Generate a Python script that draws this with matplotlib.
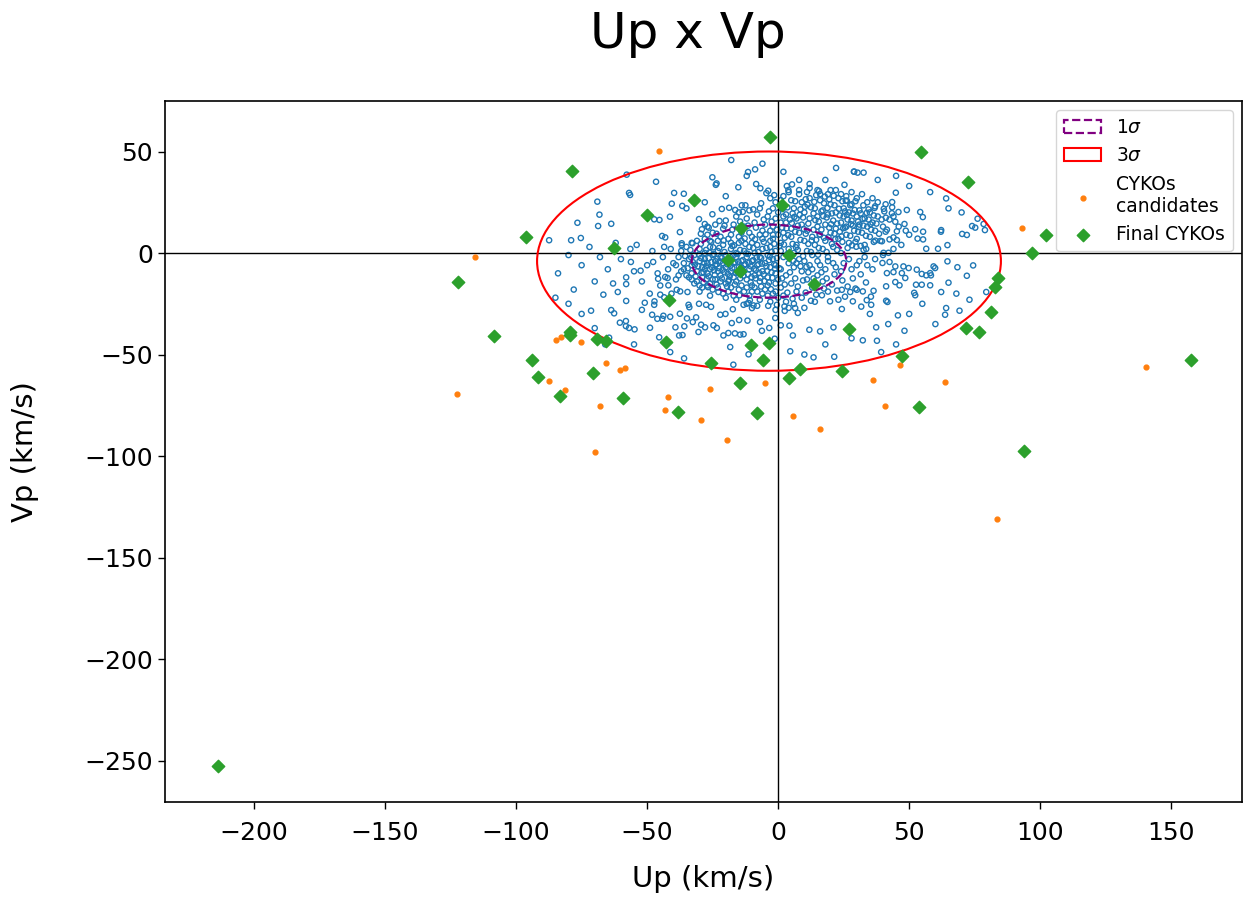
import matplotlib
matplotlib.use("Agg")
import matplotlib.pyplot as plt
from matplotlib.patches import Ellipse

# ---------------- data ----------------
# Final CYKOs (green diamonds)
final_pts = [(-3.0, 57.0), (-78.5, 40.4), (-32.1, 26.1), (-49.9, 18.7), (1.5, 23.8),
             (-96.2, 7.7), (-62.8, 2.5), (-14.2, 12.3), (-19.2, -3.4), (-14.5, -9.0),
             (4.1, -1.1), (13.6, -15.4), (-122.3, -14.4), (-41.7, -23.3), (54.5, 49.9),
             (72.3, 35.1), (102.3, 8.9), (96.7, 0.1), (84.0, -12.5), (82.9, -16.6),
             (81.3, -29.2), (-108.4, -40.9), (-79.4, -38.8), (-79.6, -40.4), (-69.2, -42.5),
             (-65.6, -43.5), (-42.7, -43.8), (-25.6, -54.3), (-10.4, -45.3), (-3.4, -44.2),
             (-5.6, -52.7), (8.4, -57.1), (4.2, -61.6), (-14.5, -64.2), (-7.9, -78.7),
             (-94.0, -52.5), (-91.6, -61.2), (-70.7, -59.3), (-83.2, -70.4), (-59.3, -71.6),
             (-38.4, -78.3), (71.6, -36.8), (76.5, -38.8), (26.9, -37.6), (24.3, -58.0),
             (47.2, -50.7), (53.6, -76.0), (94.0, -97.7), (157.5, -52.7), (-213.7, -252.7)]

# CYKOs candidates (orange dots)
cand_pts = [(-45.3, 50.4), (-115.6, -1.8), (93.0, 12.2), (-84.9, -42.7), (-82.8, -41.4),
            (-75.4, -44.0), (-65.6, -54.0), (-60.3, -57.6), (-58.3, -56.7), (-87.4, -63.2),
            (-81.4, -67.6), (-122.6, -69.5), (-68.1, -75.4), (-41.9, -70.8), (-43.0, -77.5),
            (-29.5, -82.1), (-26.2, -66.8), (-19.7, -92.1), (-70.0, -97.9), (-5.1, -64.2),
            (5.8, -80.1), (16.0, -86.5), (36.2, -62.6), (46.4, -55.2), (63.7, -63.5),
            (40.8, -75.4), (140.4, -56.3), (83.5, -130.9)]

# Field stars (blue open circles) - sparse halo
field_halo = [(-57.8, 38.6), (-46.6, 35.1), (-56.9, 29.6), (-56.5, 28.6), (-39.7, 29.6),
              (-36.0, 29.2), (-69.0, 25.3), (-40.6, 24.3), (-36.6, 23.2), (-68.2, 18.9),
              (-47.3, 16.6), (-45.3, 16.3), (-41.3, 17.9), (-76.6, 14.9), (-63.7, 14.4),
              (-68.7, 13.3), (-37.5, 10.3), (-44.3, 8.4), (-43.1, 7.7), (-87.4, 6.3),
              (-79.0, 6.3), (-75.3, 7.4), (-36.8, 4.8), (-36.8, 3.9), (-43.5, 3.0),
              (-56.4, 2.0), (-32.7, 4.8), (-17.9, 45.8), (-25.1, 37.3), (-23.5, 34.3),
              (-23.8, 33.6), (-11.5, 39.9), (-8.8, 41.2), (-15.2, 32.4), (-8.4, 34.0),
              (-6.8, 31.9), (-3.8, 30.7), (3.3, 33.0), (3.9, 31.0), (5.3, 33.8),
              (15.6, 30.5), (22.1, 41.9), (28.9, 40.1), (25.3, 33.6), (26.2, 25.8),
              (-30.2, 16.7), (-28.0, 14.3), (-25.1, 19.1), (-21.5, 21.7), (-18.7, 22.3),
              (-16.4, 21.2), (-13.9, 23.5), (-13.5, 20.3), (-29.1, 11.7), (-22.4, 15.8),
              (29.0, 40.1), (30.3, 39.6), (32.6, 39.6), (44.9, 29.7), (64.1, 26.9),
              (43.5, 25.1), (40.3, 21.8), (49.1, 21.2), (54.2, 20.2), (55.2, 17.7),
              (45.9, 20.2), (43.4, 19.6), (41.1, 17.4), (76.1, 16.9), (78.4, 14.3),
              (74.0, 13.3), (75.2, 12.5), (78.9, 11.3), (70.2, 9.4), (72.0, 8.9),
              (62.2, 11.3), (62.1, 10.5), (52.3, 11.7), (55.3, 10.5), (48.2, 14.3),
              (44.7, 15.4), (48.7, 11.0), (45.3, 10.7), (53.2, 7.1), (55.3, 6.7),
              (56.5, 2.1), (61.0, 2.1), (64.6, 3.9), (44.0, 7.7), (42.5, 6.7),
              (45.3, 6.4), (41.0, 10.5), (37.1, 6.1), (39.6, 5.8), (32.6, 1.5),
              (33.6, 2.0), (29.8, 3.1), (40.2, 0.1), (42.1, 0.1),
              (-56.2, -4.4), (-52.5, -8.7), (-45.8, -12.7), (-43.1, -11.8), (-42.2, -12.3),
              (-47.7, -4.4), (-58.0, -15.3), (-61.2, -19.2), (-66.7, -20.5), (-58.0, -23.6),
              (-50.9, -24.5), (-47.2, -23.8), (-47.3, -25.5), (-45.0, -20.5), (-43.5, -21.8),
              (-71.4, -28.4), (-63.7, -28.1), (-62.6, -29.7), (-48.1, -30.4), (-46.1, -32.4),
              (-44.2, -32.4), (-43.8, -30.9), (-41.2, -31.4), (-37.5, -29.9), (-34.8, -32.2),
              (-60.4, -34.3), (-58.1, -33.5), (-58.1, -36.0), (-56.9, -36.9), (-54.8, -37.6),
              (-48.9, -36.8), (-39.2, -36.6), (-35.8, -36.1), (-37.8, -40.6), (-36.5, -40.4),
              (-45.4, -41.5), (-41.2, -48.8), (-35.9, -51.9), (-64.5, -41.7), (-34.2, -25.5),
              (-33.9, -26.7), (-37.4, -18.9), (-34.6, -19.2), (-41.9, -15.9), (-38.7, -18.1),
              (-40.7, -20.0),
              (-30.2, -25.0), (-27.5, -25.5), (-25.6, -26.5), (-22.1, -30.4), (-20.1, -30.0),
              (-17.3, -27.7), (-13.2, -25.5), (-11.3, -24.6), (-10.0, -27.1), (-9.4, -25.8),
              (-3.8, -26.0), (-31.3, -31.7), (-32.6, -34.0), (-29.4, -35.3), (-27.9, -36.6),
              (-24.7, -35.6), (-23.4, -36.9), (-30.4, -38.9), (-20.9, -40.6), (-19.0, -39.4),
              (-16.5, -39.6), (-14.5, -40.2), (-13.2, -40.0), (-17.7, -34.5), (-14.9, -33.0),
              (-11.7, -33.3), (-6.9, -34.0), (-6.2, -38.3), (-3.4, -36.9), (-1.1, -32.0),
              (-1.3, -42.2), (-18.3, -46.3), (-17.1, -55.0), (-11.3, -49.9), (2.4, -26.3),
              (6.5, -27.1), (1.0, -35.6), (4.3, -35.8), (5.6, -40.6), (11.9, -37.8),
              (16.0, -38.6), (21.1, -36.6), (13.5, -51.4), (21.4, -51.1), (4.6, -48.4),
              (24.3, -27.6), (16.7, -20.8), (19.8, -23.8), (23.0, -23.0), (28.5, -23.8),
              (24.3, -18.1), (27.5, -19.2),
              (74.4, -6.1), (68.4, -7.0), (72.0, -11.2), (65.0, -14.6), (64.6, -4.1),
              (79.4, -19.2), (73.0, -23.0), (69.2, -28.4), (64.1, -27.1), (63.7, -30.4),
              (62.2, -19.2), (59.3, -6.6), (59.9, -7.4), (58.0, -9.9), (58.3, -11.0),
              (56.5, -11.0), (54.8, -10.3), (52.9, -8.2), (58.0, -15.9), (54.8, -15.6),
              (52.6, -15.6), (51.9, -19.6), (52.3, -20.8), (48.2, -38.3), (45.7, -30.7),
              (37.4, -36.6), (37.7, -43.2), (32.3, -43.0), (39.3, -48.8), (31.7, -26.4),
              (35.5, -25.5), (35.4, -21.5), (33.8, -23.2), (41.2, -23.5), (41.7, -24.1),
              (36.4, -18.6), (41.2, -16.4), (44.7, -14.3), (46.3, -15.9), (48.5, -12.3),
              (47.2, -9.9), (44.0, -9.4), (41.5, -9.9), (39.8, -4.9), (42.5, -4.4),
              (44.7, -6.6), (47.8, -6.6), (49.8, -7.4), (32.3, -18.9), (30.0, -18.1),
              (55.0, -25.0), (50.0, -30.0), (60.0, -35.0), (45.0, -45.0), (28.0, -42.0),
              (18.0, -45.0), (10.0, -50.0), (35.0, -30.0), (42.0, -35.0), (68.0, -20.0),
              (-75.0, -30.0), (-70.0, -37.0), (-80.0, -25.0), (-66.0, -45.0), (-55.0, -45.0),
              (-52.0, -28.0), (-85.0, -22.0), (58.0, 30.0), (65.0, 22.0), (70.0, 20.0),
              (50.0, 33.0), (38.0, 36.0), (45.0, 38.0), (-12.0, 38.0), (-6.0, 44.0),
              (2.0, 40.0), (8.0, 36.0), (12.0, 34.0), (-20.0, 28.0), (-28.0, 25.0),
              (-35.0, 22.0), (18.0, 36.0)]

# Field stars - dense core, left lobe
field_core_left = [(-34, -3), (-33, -6), (-32, -1), (-31, -9), (-30, -4), (-30, 2), (-29, -7),
                   (-29, -12), (-28, 0), (-28, -3), (-27, -10), (-27, -5), (-26, 3), (-26, -8),
                   (-25, -1), (-25, -13), (-24, -4), (-24, -6), (-23, 1), (-23, -9), (-22, -2),
                   (-22, -11), (-21, -5), (-21, 4), (-20, -7), (-20, -1), (-19, -14), (-19, -3),
                   (-18, 2), (-18, -9), (-17, -5), (-17, -12), (-16, 0), (-16, -2), (-15, -7),
                   (-15, 5), (-14, -4), (-14, -10), (-13, 1), (-13, -6), (-12, -13), (-12, -2),
                   (-11, 3), (-11, -8), (-10, -4), (-10, -16), (-9, 0), (-9, -11), (-8, -6),
                   (-8, 4), (-7, -2), (-7, -14), (-6, -9), (-6, 2), (-5, -5), (-5, -18), (-4, -1),
                   (-4, -12), (-3, 6), (-3, -7), (-2, -3), (-2, -20), (-1, 1), (-1, -15),
                   (-33, -10), (-36, -5), (-38, -2), (-37, -9), (-31, -14), (-27, -16), (-23, -17),
                   (-19, -19), (-15, -18), (-11, -21), (-7, -23), (-3, -24), (-26, 6), (-22, 8),
                   (-18, 9), (-14, 10), (-10, 8), (-6, 11), (-2, 9), (-20, -15), (-16, -14),
                   (-24, -13), (-28, -8), (-12, -17), (-8, -19), (-4, -16),
                   (-28, 7), (-25, 10), (-21, 12), (-17, 14), (-13, 13), (-9, 15), (-5, 14),
                   (-2, 13), (-1, 17), (-4, 18), (-8, 19), (-12, 17), (-16, 18), (-20, 16),
                   (-24, 14), (-27, 13), (-6, 7), (-10, 5), (-14, 6), (-18, 5), (-3, 3),
                   (-7, 22), (-11, 21), (-2, 22), (-15, 20),
                   (-40, -5), (-42, -8), (-44, -2), (-46, -10), (-48, 1), (-50, -6), (-52, -14),
                   (-54, 4), (-39, -13), (-41, 2), (-45, -16), (-49, -20), (-55, -9), (-60, -3),
                   (-58, -12), (-62, 5), (-65, -8), (-68, -2), (-70, -14), (-72, 3), (-75, -6),
                   (-78, -18), (-80, -1), (-84, -10), (-63, -15)]

field_fill_left = [(-35.5, -1.5), (-34.5, -7.5), (-33.5, 1.5), (-32.5, -4.5), (-31.5, -11.5),
                   (-30.5, -6.5), (-29.5, -2.5), (-29.5, 4.5), (-28.5, -9.5), (-28.5, -14.5),
                   (-27.5, 1.5), (-27.5, -6.5), (-26.5, -2.5), (-26.5, -11.5), (-25.5, -4.5),
                   (-25.5, 5.5), (-24.5, -8.5), (-24.5, -0.5), (-23.5, -15.5), (-23.5, -5.5),
                   (-22.5, 2.5), (-22.5, -7.5), (-21.5, -12.5), (-21.5, -2.5), (-20.5, 0.5),
                   (-20.5, -9.5), (-19.5, -5.5), (-19.5, -16.5), (-18.5, -1.5), (-18.5, -11.5),
                   (-17.5, 3.5), (-17.5, -7.5), (-16.5, -4.5), (-16.5, -15.5), (-15.5, -0.5),
                   (-15.5, -9.5), (-14.5, 1.5), (-14.5, -12.5), (-13.5, -3.5), (-13.5, -8.5),
                   (-12.5, 4.5), (-12.5, -5.5), (-11.5, -0.5), (-11.5, -10.5), (-10.5, -14.5),
                   (-10.5, -6.5), (-9.5, 2.5), (-9.5, -3.5), (-8.5, -8.5), (-8.5, -12.5),
                   (-7.5, 0.5), (-7.5, -5.5), (-6.5, -16.5), (-6.5, -2.5), (-5.5, 5.5),
                   (-5.5, -10.5), (-4.5, -6.5), (-4.5, 2.5), (-3.5, -14.5), (-3.5, -3.5),
                   (-2.5, 0.5), (-2.5, -9.5), (-1.5, -5.5), (-1.5, 4.5), (-37, 1), (-39, -6),
                   (-35, -11), (-32, -15), (-29, -17), (-25, -18), (-21, -20), (-17, -21),
                   (-13, -19), (-9, -17), (-6, -20), (-31, 6), (-27, 9), (-23, 6), (-19, 7),
                   (-15, 8), (-11, 10), (-7, 9), (-3, 11), (-33, -13), (-30, -16), (-26, -15),
                   (-22, -14), (-18, -17), (-14, -16), (-10, -19), (-36, -8), (-34, -12),
                   (-38, -11), (-35, 3), (-33, 5), (-30, -19), (-26, -21), (-20, -22), (-16, -23),
                   (-12, -25), (-8, -26), (-4, -21), (-1, -19), (-1, -6), (-2, 7),
                   (-29.5, 9.5), (-26.5, 12.5), (-23.5, 9.5), (-20.5, 13.5), (-17.5, 11.5),
                   (-14.5, 15.5), (-11.5, 13.5), (-8.5, 12.5), (-5.5, 16.5), (-2.5, 15.5),
                   (-0.5, 11.5), (-3.5, 20.5), (-6.5, 24.5), (-9.5, 21.5), (-12.5, 23.5),
                   (-1.5, 28.5), (-4.5, 29.5),
                   (-33.2, -2.2), (-31.8, -5.8), (-30.2, -0.8), (-29.2, -9.8), (-28.2, -4.8),
                   (-27.2, -12.8), (-26.2, 0.2), (-25.2, -7.2), (-24.2, -10.8), (-23.2, -2.8),
                   (-22.2, -4.2), (-21.2, -8.2), (-20.2, -3.8), (-19.2, -10.2), (-18.2, -6.2),
                   (-17.2, -1.2), (-16.2, -9.8), (-15.2, -4.2), (-14.2, -7.2), (-13.2, -11.2),
                   (-12.2, -0.2), (-11.2, -4.8), (-10.2, -11.8), (-9.2, -7.8), (-8.2, -2.2),
                   (-7.2, -9.8), (-6.2, -5.2), (-5.2, -13.8), (-4.2, -8.8), (-3.2, -1.8),
                   (-2.2, -12.2), (-1.2, -7.8), (-24.8, 2.8), (-20.8, 6.2), (-16.8, 3.8),
                   (-12.8, 7.2), (-8.8, 6.8), (-4.8, 9.2), (-26.8, -16.8), (-22.8, -19.2),
                   (-18.8, -13.2), (-14.8, -20.8), (-10.8, -23.2), (-6.8, -12.2), (-2.8, -17.8)]

# Field stars - dense core, right lobe
field_core_right = [(1, 5), (2, 10), (2, -2), (3, 15), (3, 19), (4, 2), (4, -5), (5, 8), (5, 12),
                    (6, 22), (6, 0), (7, 17), (7, 4), (8, -3), (8, 10), (9, 14), (9, 25), (10, 6),
                    (10, 20), (11, 1), (11, 11), (12, 17), (12, 27), (13, 8), (13, -1), (14, 22),
                    (14, 4), (15, 13), (15, 18), (16, 9), (16, 26), (17, 2), (17, 21), (18, 14),
                    (18, 6), (19, 19), (19, -2), (20, 10), (20, 24), (21, 16), (21, 3), (22, 12),
                    (22, 20), (23, 7), (23, 27), (24, 15), (24, 0), (25, 18), (25, 22), (26, 9),
                    (26, 13), (27, 5), (27, 20), (28, 16), (28, 24), (29, 11), (30, 18), (30, 7),
                    (31, 14), (31, 21), (32, 10), (33, 17), (33, 4), (34, 13), (35, 20), (35, 8),
                    (36, 15), (37, 11), (38, 18), (39, 6), (40, 13), (2, 28), (5, 26), (8, 29),
                    (11, 30), (15, 31), (19, 29), (22, 31), (26, 28), (30, 27), (34, 25), (37, 23),
                    (-1, 25), (-3, 27), (0, 20), (1, -8), (3, -11), (6, -7), (9, -9), (12, -6),
                    (15, -4), (18, -8), (21, -5), (24, -9), (27, -3), (30, -6), (33, -2), (36, -8),
                    (-1, -10), (0, -13), (1, -17), (2, -21), (3, -24), (5, -15), (7, -19), (9, -22),
                    (11, -13), (13, -17), (15, -11), (17, -14), (19, -19), (4, -27), (-1, -28),
                    (0, -22), (6, -25), (10, -27), (14, -24)]

field_fill_right = [(0.5, 3.5), (1.5, 12.5), (2.5, 7.5), (3.5, -0.5), (3.5, 22.5), (4.5, 16.5),
                    (5.5, 4.5), (5.5, 19.5), (6.5, 10.5), (6.5, 25.5), (7.5, 1.5), (7.5, 13.5),
                    (8.5, 6.5), (8.5, 21.5), (9.5, -1.5), (9.5, 17.5), (10.5, 9.5), (10.5, 26.5),
                    (11.5, 4.5), (11.5, 14.5), (12.5, 22.5), (12.5, 0.5), (13.5, 11.5),
                    (13.5, 19.5), (14.5, 6.5), (14.5, 28.5), (15.5, 15.5), (15.5, 2.5),
                    (16.5, 20.5), (16.5, 11.5), (17.5, 7.5), (17.5, 24.5), (18.5, 17.5),
                    (18.5, 0.5), (19.5, 12.5), (19.5, 26.5), (20.5, 4.5), (20.5, 19.5),
                    (21.5, 9.5), (21.5, 23.5), (22.5, 14.5), (22.5, 1.5), (23.5, 18.5),
                    (23.5, 10.5), (24.5, 25.5), (24.5, 5.5), (25.5, 12.5), (25.5, 20.5),
                    (26.5, 16.5), (26.5, 2.5), (27.5, 23.5), (27.5, 8.5), (28.5, 13.5),
                    (28.5, 19.5), (29.5, 5.5), (29.5, 25.5), (30.5, 10.5), (30.5, 15.5),
                    (31.5, 19.5), (31.5, 3.5), (32.5, 13.5), (32.5, 23.5), (33.5, 8.5),
                    (34.5, 16.5), (34.5, 21.5), (35.5, 11.5), (36.5, 18.5), (36.5, 5.5),
                    (37.5, 14.5), (38.5, 9.5), (39.5, 16.5), (40.5, 20.5), (41.5, 11.5),
                    (42.5, 16.5), (43.5, 22.5), (38, 25), (41, 24), (36, 27), (32, 29), (28, 30),
                    (24, 29), (20, 31), (16, 29), (12, 32), (8, 31), (4, 30), (1, 26), (1, 15),
                    (2, 18), (0, 9), (1, 1), (4, -2), (7, -5), (10, -4), (13, -8), (16, -6),
                    (19, -4), (22, -7), (25, -5), (28, -8), (31, -4), (34, -6), (37, -3), (40, -1),
                    (44, 2), (47, 4), (50, 9), (46, 13), (44, 18),
                    (-0.5, -2.5), (0.5, -7.5), (1.5, -12.5), (2.5, -15.5), (3.5, -19.5),
                    (4.5, -9.5), (5.5, -22.5), (6.5, -12.5), (7.5, -16.5), (8.5, -6.5),
                    (9.5, -13.5), (10.5, -19.5), (11.5, -9.5), (12.5, -23.5), (13.5, -12.5),
                    (14.5, -20.5), (16.5, -9.5), (17.5, -17.5), (18.5, -12.5), (20.5, -15.5),
                    (21.5, -10.5), (22.5, -18.5), (24.5, -13.5), (26.5, -16.5), (25.5, -21.5),
                    (28.5, -12.5), (29.5, -17.5), (31.5, -10.5), (33.5, -14.5), (2.5, -28.5),
                    (7.5, -29.5), (-0.5, -25.5),
                    (2.2, 4.2), (3.8, 8.8), (5.2, 14.8), (6.8, 2.8), (8.2, 18.8), (9.8, 11.8),
                    (11.2, 23.8), (12.8, 6.2), (14.2, 16.2), (15.8, 9.2), (17.2, 18.2),
                    (18.8, 22.2), (20.2, 14.2), (21.8, 6.8), (23.2, 21.8), (24.8, 12.2),
                    (26.2, 18.8), (27.8, 14.2), (29.2, 21.2), (30.8, 12.8), (32.2, 16.8),
                    (33.8, 19.8), (35.2, 14.2), (36.8, 22.2), (25.8, 25.8), (21.2, 28.2),
                    (17.8, 27.8), (13.8, 25.2), (10.2, 22.8), (6.2, 17.8), (3.2, 12.2),
                    (1.8, 21.8), (24.2, 8.2), (28.2, 3.8), (19.2, 7.8), (15.2, -0.8),
                    (10.8, -6.8), (5.8, -3.8)]

# Velocity ellipse parameters (center, 1-sigma semi-axes)
ell_center = (-3.5, -4.0)
sigma_up, sigma_vp = 29.5, 18.0

x_ticks = [-200, -150, -100, -50, 0, 50, 100, 150]
y_ticks = [-250, -200, -150, -100, -50, 0, 50]

# ---------------- figure ----------------
fig = plt.figure(figsize=(12.43, 8.99), dpi=100)
ax = fig.add_axes([0.1327, 0.1079, 0.8665, 0.7798])

field_all = field_halo + field_core_left + field_fill_left + field_core_right + field_fill_right
fx = [p[0] for p in field_all]
fy = [p[1] for p in field_all]
ax.scatter(fx, fy, s=14, facecolors='none', edgecolors='#1f77b4', linewidths=1.0, zorder=2)

ax.axhline(0, color='black', lw=1.0, zorder=3)
ax.axvline(0, color='black', lw=1.0, zorder=3)

e1 = Ellipse(ell_center, 2 * sigma_up, 2 * sigma_vp, fill=False, edgecolor='purple',
             linestyle='--', lw=1.6, label=r'1$\sigma$', zorder=4)
e3 = Ellipse(ell_center, 6 * sigma_up, 6 * sigma_vp, fill=False, edgecolor='red',
             lw=1.5, label=r'3$\sigma$', zorder=4)
ax.add_patch(e1)
ax.add_patch(e3)

ax.scatter([p[0] for p in cand_pts], [p[1] for p in cand_pts], s=12, color='#ff7f0e',
           label='CYKOs\ncandidates', zorder=5)
ax.scatter([p[0] for p in final_pts], [p[1] for p in final_pts], s=40, marker='D',
           color='#2ca02c', label='Final CYKOs', zorder=6)

ax.set_xlim(-234, 177)
ax.set_ylim(-270.4, 74.9)
ax.set_xticks(x_ticks)
ax.set_yticks(y_ticks)
ax.tick_params(labelsize=18, length=5, width=1)
ax.tick_params(axis='x', pad=9)
for s in ax.spines.values():
    s.set_linewidth(1.2)
ax.set_xlabel('Up (km/s)', fontsize=21, labelpad=14)
ax.set_ylabel('Vp (km/s)', fontsize=21, labelpad=33)

ax.legend(loc='upper right', fontsize=13.5)

fig.text(0.553, 0.962, 'Up x Vp', fontsize=36, ha='center', va='center')

fig.savefig('out.png', dpi=100)
